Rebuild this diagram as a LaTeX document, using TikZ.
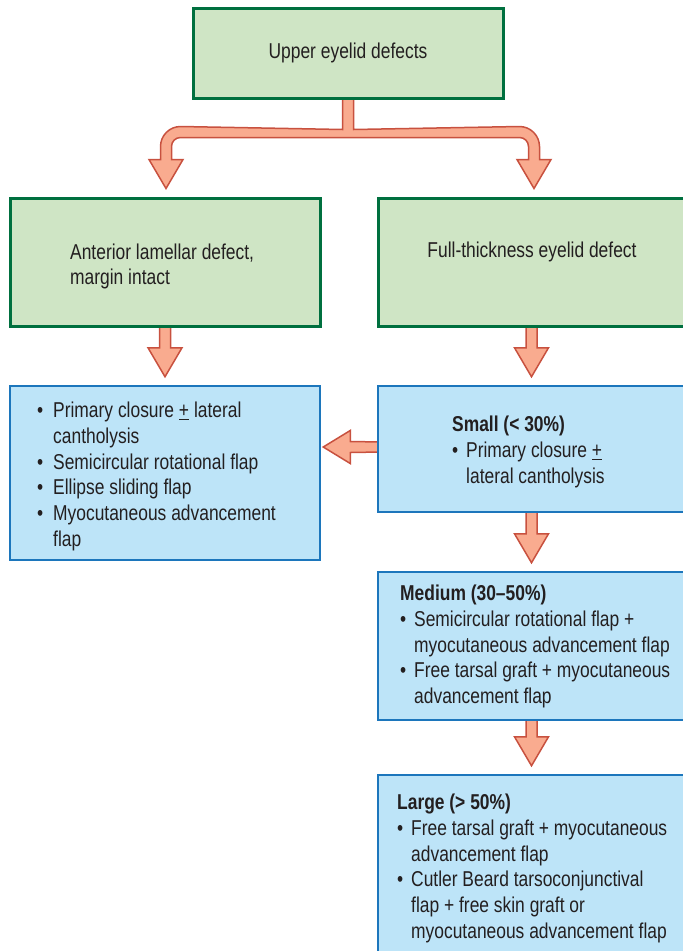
\documentclass[tikz,border=0pt]{standalone}
\usepackage{fontspec}
\setmainfont{Liberation Sans}[FakeStretch=0.81]
\usetikzlibrary{calc}
\definecolor{gfill}{HTML}{CFE5C5}
\definecolor{gline}{HTML}{00703F}
\definecolor{bfill}{HTML}{BDE4F8}
\definecolor{bline}{HTML}{1C76BC}
\definecolor{afill}{HTML}{F9AB8F}
\definecolor{aline}{HTML}{C8513F}
\definecolor{txt}{HTML}{231F20}
\pgfdeclarelayer{bg}
\pgfsetlayers{bg,main}
\newcommand\bul{\makebox[14pt][l]{\textbullet}}
\newcommand\ind{\hspace*{14pt}}
\newcommand\bulL{\makebox[16pt][l]{\textbullet}}
\newcommand\indL{\hspace*{16pt}}
\newcommand\fatdown[2]{\path[fatarrow] ($(#1)+(-5.5,-4)$) -- ($(#2)+(-5.5,-29)$) -- ($(#2)+(-17,-29)$) -- (#2) -- ($(#2)+(17,-29)$) -- ($(#2)+(5.5,-29)$) -- ($(#1)+(5.5,-4)$) -- cycle;}
\begin{document}
\begin{tikzpicture}[x=1pt,y=-1pt,
  txtfont/.style={font=\fontsize{21.5}{25.8}\selectfont, text=txt},
  gbox/.style={draw=gline, fill=gfill, line width=3pt, txtfont, inner sep=0pt},
  bbox/.style={draw=bline, fill=bfill, line width=2.5pt, txtfont, inner sep=0pt},
  label/.style={txtfont, align=left, anchor=west, inner sep=0pt},
  fatarrow/.style={fill=afill, draw=aline, line width=1.5pt, line join=miter}]
\useasboundingbox (0,0) rectangle (683,951);
% boxes
\node[gbox, minimum width=310, minimum height=90] (top) at (348,53) {};
\node[gbox, minimum width=310, minimum height=128] (lg) at (165,262) {};
\node[gbox, minimum width=307, minimum height=128] (rg) at (531.5,262) {};
\node[bbox, minimum width=310, minimum height=174] (lb) at (165,473) {};
\node[bbox, minimum width=307, minimum height=126] (sb) at (531.5,449) {};
\node[bbox, minimum width=307, minimum height=148] (mb) at (531.5,646) {};
\node[bbox, minimum width=307, minimum height=180] (Lb) at (531.5,865) {};
% texts
\node[txtfont, inner sep=0pt] (topt) at (348,53) {Upper eyelid defects};
\node[txtfont, inner sep=0pt] (rgt) at (532,252) {Full-thickness eyelid defect};
\node[label] (lgt) at (70,266.5) {Anterior lamellar defect,\\margin intact};
\node[label] (lbt) at (37,476.5) {\bulL Primary closure \underline{+} lateral\\\indL cantholysis\\\bulL Semicircular rotational flap\\\bulL Ellipse sliding flap\\\bulL Myocutaneous advancement\\\indL flap};
\node[label] (sbt) at (452,452) {\textbf{Small (< 30\%)}\\\bul Primary closure \underline{+}\\\ind lateral cantholysis};
\node[label] (mbt) at (400,646.5) {\textbf{Medium (30–50\%)}\\\bul Semicircular rotational flap +\\\ind myocutaneous advancement flap\\\bul Free tarsal graft + myocutaneous\\\ind advancement flap};
\node[label] (Lbt) at (397,868.5) {\textbf{Large (> 50\%)}\\\bul Free tarsal graft + myocutaneous\\\ind advancement flap\\\bul Cutler Beard tarsoconjunctival\\\ind flap + free skin graft or\\\ind myocutaneous advancement flap};
% arrow coordinates
\coordinate (tipL) at ($(lg.north)+(1,-8)$);
\coordinate (tipR) at ($(rg.north)+(2.5,-8)$);
\coordinate (a1s) at (lg.south);
\coordinate (a1t) at ($(lg.south |- lb.north)+(0,-8)$);
\coordinate (a2s) at (rg.south);
\coordinate (a2t) at ($(rg.south |- sb.north)+(0,-8)$);
\coordinate (a3s) at (sb.south);
\coordinate (a3t) at ($(sb.south |- mb.north)+(0,-8)$);
\coordinate (a4s) at (mb.south);
\coordinate (a4t) at ($(mb.south |- Lb.north)+(0,-8)$);
\coordinate (tipH) at ($(lb.east |- sb.west)+(2,-2)$);
\begin{pgfonlayer}{bg}
\path[fatarrow] ($(top.south)+(-5.5,-4)$) -- ($(top.south)+(-5.5,30)$)
  -- ($(tipL)+(14.5,-62)$) .. controls ($(tipL)+(3.5,-62)$) and ($(tipL)+(-5.5,-53)$) .. ($(tipL)+(-5.5,-42)$)
  -- ($(tipL)+(-5.5,-29)$) -- ($(tipL)+(-17,-29)$) -- (tipL) -- ($(tipL)+(17,-29)$) -- ($(tipL)+(5.5,-29)$)
  -- ($(tipL)+(5.5,-42)$) .. controls ($(tipL)+(5.5,-47)$) and ($(tipL)+(9.5,-51)$) .. ($(tipL)+(14.5,-51)$)
  -- ($(tipR)+(-14.5,-51)$) .. controls ($(tipR)+(-9.5,-51)$) and ($(tipR)+(-5.5,-47)$) .. ($(tipR)+(-5.5,-42)$)
  -- ($(tipR)+(-5.5,-29)$) -- ($(tipR)+(-17,-29)$) -- (tipR) -- ($(tipR)+(17,-29)$) -- ($(tipR)+(5.5,-29)$)
  -- ($(tipR)+(5.5,-42)$) .. controls ($(tipR)+(5.5,-53)$) and ($(tipR)+(-3.5,-62)$) .. ($(tipR)+(-14.5,-62)$)
  -- ($(top.south)+(5.5,30)$) -- ($(top.south)+(5.5,-4)$) -- cycle;
\fatdown{a1s}{a1t}
\fatdown{a2s}{a2t}
\fatdown{a3s}{a3t}
\fatdown{a4s}{a4t}
\path[fatarrow] ($(sb.west)+(4,-7)$) -- ($(tipH)+(27,-5.5)$) -- ($(tipH)+(27,-16.5)$) -- (tipH) -- ($(tipH)+(27,16.5)$) -- ($(tipH)+(27,5.5)$) -- ($(sb.west)+(4,3)$) -- cycle;
\end{pgfonlayer}
\end{tikzpicture}
\end{document}
